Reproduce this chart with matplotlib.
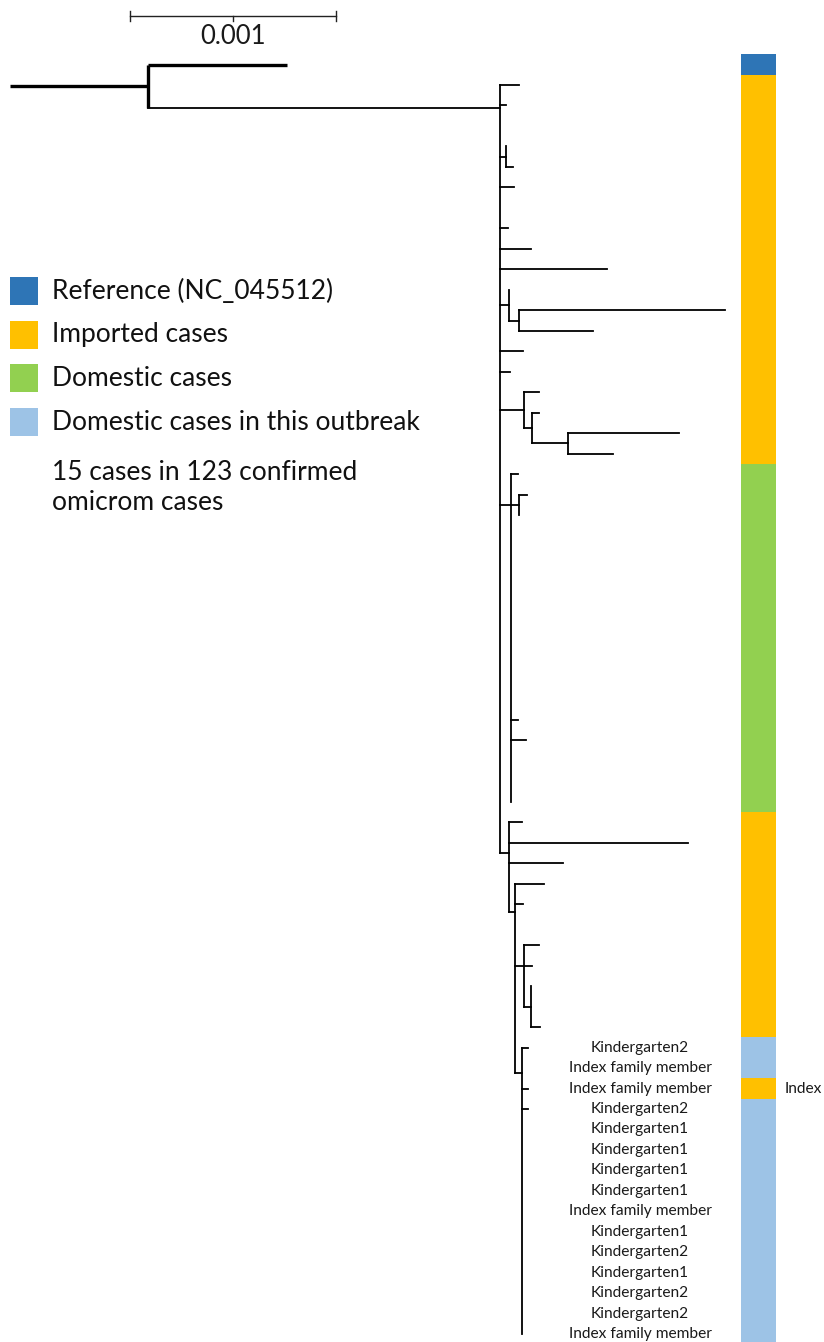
import numpy as np
import matplotlib.pyplot as plt
from matplotlib.collections import LineCollection
from matplotlib.patches import Rectangle

plt.rcParams.update({
    'font.family': ['Lato', 'DejaVu Sans'],
    'figure.facecolor': 'white',
})

W, H = 824, 1342

# arbol en newick, longitudes en sustituciones/sitio (orden de hojas = orden de filas)
TREE = (
    "(REF:0.000675,"
    "(:0.000092,:0.000029,:0,(:0,:0.000034):0.000029,:0.000068,:0,:0.000039,"
    ":0.000150,:0.000519,(:0,(:0.001000,:0.000359):0.000049):0.000044,"
    ":0.000112,:0.000049,"
    "(:0.000073,(:0.000034,(:0.000539,:0.000218):0.000175):0.000039):0.000117,"
    "(:0.000034,(:0.000039,:0):0.000039,:0,:0,:0,:0,:0,:0,:0,:0,:0,"
    ":0.000034,:0.000073,:0,:0,:0)G:0.000053,"
    "(:0.000063,:0.000869,:0.000262,"
    "(:0.000141,:0.000039,:0,"
    "(:0.000073,:0.000039,(:0,:0,:0.000044)S:0.000034)Q:0.000044,"
    "(:0.000029,:0,:0.000029,:0.000029,:0,:0,:0,:0,:0,:0,:0,:0,:0,:0,:0)R:0.000034"
    ")P:0.000029)L:0.000044)M:0.001709)ROOT:0.00067;"
)

# fila donde se engancha la rama de algunos nodos (politomías)
ATTACH = {'M': 1.12, 'G': 20.5, 'L': 37.5, 'P': 40.4, 'Q': 43.0, 'R': 48.24}
THICK = {'ROOT', 'REF'}

# barra de colores por grupo (filas consecutivas)
BAR_GROUPS = ['ref', 'imported', 'domestic', 'imported', 'outbreak', 'imported', 'outbreak']
BAR_ROWS = [1, 19, 17, 11, 2, 1, 12]

COLORS = {
    'ref': '#2E75B6',
    'imported': '#FFC000',
    'domestic': '#92D050',
    'outbreak': '#9DC3E6',
}
LEGEND_LABELS = ['Reference (NC_045512)', 'Imported cases', 'Domestic cases',
                 'Domestic cases in this outbreak']
LEGEND_KEYS = ['ref', 'imported', 'domestic', 'outbreak']
NOTE = '15 cases in 123 confirmed\nomicrom cases'

OUTBREAK_LABELS = ['Kindergarten2', 'Index family member', 'Index family member',
                   'Kindergarten2', 'Kindergarten1', 'Kindergarten1', 'Kindergarten1',
                   'Kindergarten1', 'Index family member', 'Kindergarten1',
                   'Kindergarten2', 'Kindergarten1', 'Kindergarten2', 'Kindergarten2',
                   'Index family member']
INDEX_POS = 2          # posición del caso índice dentro del brote
SCALE_LEN = 0.001

# escala de pixeles
PX_PER_UNIT = 206000.0
X0_PX = 10
ROW0_PX, ROW_PX = 85, 20.48


def parse_newick(s):
    pos = 0

    def node():
        nonlocal pos
        kids = []
        if s[pos] == '(':
            pos += 1
            kids.append(node())
            while s[pos] == ',':
                pos += 1
                kids.append(node())
            pos += 1
        start = pos
        while s[pos] not in ':,();':
            pos += 1
        name = s[start:pos]
        length = 0.0
        if s[pos] == ':':
            pos += 1
            start = pos
            while s[pos] not in ',();':
                pos += 1
            length = float(s[start:pos])
        return {'name': name, 'len': length, 'kids': kids}

    return node()


def layout(n, x0, rows):
    n['x0'] = x0
    n['x'] = x0 + n['len']
    if not n['kids']:
        n['y'] = next(rows)
        return
    for k in n['kids']:
        layout(k, n['x'], rows)
    n['y'] = ATTACH.get(n['name'], (n['kids'][0]['y'] + n['kids'][-1]['y']) / 2)


def collect(n, thin, thick, leaves):
    seg = thick if n['name'] in THICK else thin
    if n['len'] > 0:
        seg.append([(n['x0'], n['y']), (n['x'], n['y'])])
    if n['kids']:
        vseg = thick if n['name'] == 'ROOT' else thin
        vseg.append([(n['x'], n['kids'][0]['y']), (n['x'], n['kids'][-1]['y'])])
        for k in n['kids']:
            collect(k, thin, thick, leaves)
    else:
        leaves.append(n)


root = parse_newick(TREE)
layout(root, 0.0, iter(range(-1, 1000)))
thin, thick, leaves = [], [], []
collect(root, thin, thick, leaves)

fig = plt.figure(figsize=(W / 100, H / 100), dpi=100)
ax = fig.add_axes([0, 0, 1, 1])
ax.set_xlim((0 - X0_PX) / PX_PER_UNIT, (W - X0_PX) / PX_PER_UNIT)
ax.set_ylim((H - ROW0_PX) / ROW_PX, (0 - ROW0_PX) / ROW_PX)
ax.axis('off')

ax.add_collection(LineCollection(thin, colors='black', linewidths=1.3, capstyle='projecting'))
ax.add_collection(LineCollection(thick, colors='black', linewidths=2.4, capstyle='butt'))

# barra de grupos
bar_x = (741 - X0_PX) / PX_PER_UNIT
bar_w = 35 / PX_PER_UNIT
starts = np.concatenate([[0], np.cumsum(BAR_ROWS)[:-1]]) - 1
ax.barh(starts + np.array(BAR_ROWS) / 2 - 0.5, bar_w, left=bar_x,
        height=BAR_ROWS, color=[COLORS[g] for g in BAR_GROUPS], linewidth=0)

# etiquetas del brote
lab_x = (640 - X0_PX) / PX_PER_UNIT
out_rows = [lf['y'] for lf in leaves[-len(OUTBREAK_LABELS):]]
for r, lab in zip(out_rows, OUTBREAK_LABELS):
    ax.text(lab_x, r, lab, ha='center', va='center', fontsize=11.2, color='#1a1a1a')
ax.text((785 - X0_PX) / PX_PER_UNIT, out_rows[INDEX_POS], 'Index',
        ha='left', va='center', fontsize=11.2, color='#1a1a1a')

# barra de escala
sb_x = (130 - X0_PX) / PX_PER_UNIT
sb_y = (16 - ROW0_PX) / ROW_PX
tk = 0.22
ax.plot([sb_x, sb_x + SCALE_LEN], [sb_y, sb_y], color='#222222', lw=1.0)
for xx in (sb_x, sb_x + SCALE_LEN):
    ax.plot([xx, xx], [sb_y - tk, sb_y + tk], color='#222222', lw=1.0)
ax.plot([sb_x + SCALE_LEN / 2] * 2, [sb_y, sb_y + tk], color='#222222', lw=1.0)
ax.text(sb_x + SCALE_LEN / 2, sb_y + 1.0, f'{SCALE_LEN:g}', ha='center', va='center',
        fontsize=18.5, color='#1a1a1a')

# leyenda en coordenadas de pixel
lax = fig.add_axes([0, 0, 1, 1])
lax.set_xlim(0, W)
lax.set_ylim(H, 0)
lax.axis('off')
lax.patch.set_alpha(0)
for i, (key, lab) in enumerate(zip(LEGEND_KEYS, LEGEND_LABELS)):
    yc = 291 + i * 43.7
    lax.add_patch(Rectangle((10, yc - 14), 28, 28, facecolor=COLORS[key],
                            edgecolor='none'))
    lax.text(52, yc, lab, ha='left', va='center', fontsize=19, color='#111111')
lax.text(52, 488, NOTE, ha='left', va='center', fontsize=19, color='#111111',
         linespacing=1.25)

fig.savefig('out.png', dpi=100)
